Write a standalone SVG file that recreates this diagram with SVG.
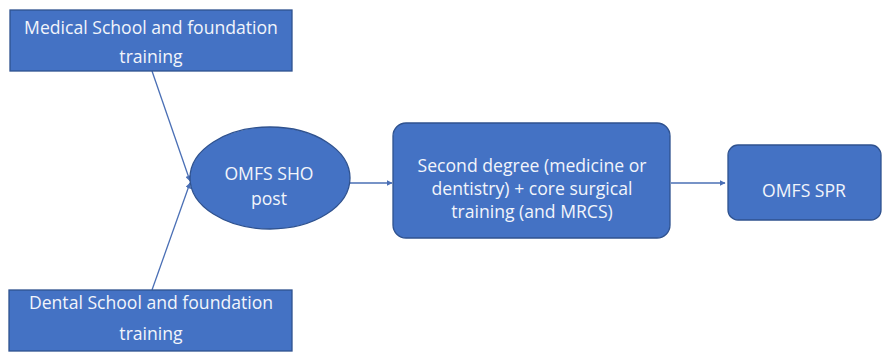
<svg xmlns="http://www.w3.org/2000/svg" width="883" height="353" viewBox="0 0 883 353">
<style>
.node{fill:#4472C4;stroke:#2F528F;stroke-width:1.3}
.t{font-family:"Open Sans","Liberation Sans",sans-serif;font-size:17.6px;fill:#F2F5FB;text-anchor:middle}
.c{stroke:#4A6FB5;stroke-width:1.3;fill:none;marker-end:url(#ah)}
</style>
<defs>
<marker id="ah" viewBox="0 0 10 10" refX="9" refY="5" markerWidth="6" markerHeight="6" markerUnits="userSpaceOnUse" orient="auto">
<path d="M0,0 L10,5 L0,10 z" fill="#4A6FB5"/>
</marker>
</defs>
<rect width="883" height="353" fill="#FFFFFF"/>
<g id="connectors">
<line class="c" x1="152" y1="71" x2="190" y2="181"/>
<line class="c" x1="152" y1="290" x2="190" y2="183"/>
<line class="c" x1="350" y1="183" x2="392" y2="183"/>
<line class="c" x1="671" y1="183" x2="725" y2="183"/>
</g>
<g id="medical">
<rect class="node" x="10" y="10" width="282" height="61"/>
<text class="t" x="151" y="34">Medical School and foundation</text>
<text class="t" x="151" y="63">training</text>
</g>
<g id="dental">
<rect class="node" x="9" y="290" width="283" height="61"/>
<text class="t" x="151" y="309">Dental School and foundation</text>
<text class="t" x="151" y="340">training</text>
</g>
<g id="sho">
<ellipse class="node" cx="270" cy="178" rx="80" ry="51"/>
<text class="t" x="269" y="180">OMFS SHO</text>
<text class="t" x="269" y="205">post</text>
</g>
<g id="second">
<rect class="node" x="393" y="123" width="277" height="115" rx="13"/>
<text class="t" x="532" y="172">Second degree (medicine or</text>
<text class="t" x="532" y="195">dentistry) + core surgical</text>
<text class="t" x="532" y="218">training (and MRCS)</text>
</g>
<g id="spr">
<rect class="node" x="728" y="145" width="153" height="75" rx="10"/>
<text class="t" x="804" y="197">OMFS SPR</text>
</g>
</svg>
